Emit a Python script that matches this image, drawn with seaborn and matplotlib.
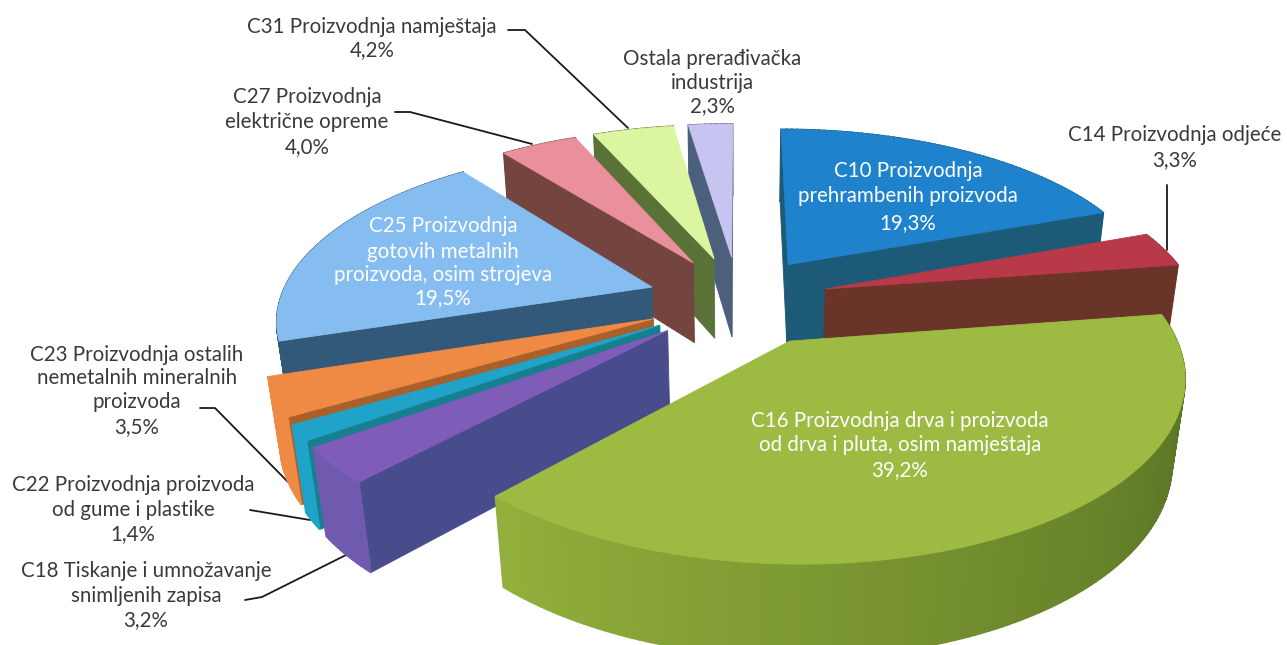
import numpy as np
import matplotlib
matplotlib.use('Agg')
import matplotlib.pyplot as plt
import seaborn as sns

# Udio po djelatnosti (%)
categories = ['C10', 'C14', 'C16', 'C18', 'C22', 'C23', 'C25', 'C27', 'C31', 'Ostala']
shares = [19.3, 3.3, 39.2, 3.2, 1.4, 3.5, 19.5, 4.0, 4.2, 2.3]

label_lines = [
    ['C10 Proizvodnja', 'prehrambenih proizvoda', '19,3%'],
    ['C14 Proizvodnja odjeće', '3,3%'],
    ['C16 Proizvodnja drva i proizvoda', 'od drva i pluta, osim namještaja', '39,2%'],
    ['C18 Tiskanje i umnožavanje', 'snimljenih zapisa', '3,2%'],
    ['C22 Proizvodnja proizvoda', 'od gume i plastike', '1,4%'],
    ['C23 Proizvodnja ostalih', 'nemetalnih mineralnih', 'proizvoda', '3,5%'],
    ['C25 Proizvodnja', 'gotovih metalnih', 'proizvoda, osim strojeva', '19,5%'],
    ['C27 Proizvodnja', 'električne opreme', '4,0%'],
    ['C31 Proizvodnja namještaja', '4,2%'],
    ['Ostala prerađivačka', 'industrija', '2,3%'],
]

top_colors = ['#1f82cc', '#b83a48', '#9dbb42', '#7f5cb8', '#1fa3c9', '#ee8a43',
              '#86bdf0', '#ea8f9c', '#dcf5a0', '#c8c4f2']
side_colors = ['#1d5a78', '#6a3429', '#5f7a2a', '#484c8c', '#17808f', '#a9602b',
               '#33597a', '#74443f', '#5a7238', '#4c5f7c']
rim_colors = ['#1d5a78', '#6a3429', '#8da83c', '#6f5ab0', '#1fa3c9', '#ee8a43',
              '#33597a', '#74443f', '#5a7238', '#4c5f7c']

# geometri tampilan pie 3D
cx, cy = 738, 300
R0, k, H = 372, 0.455, 84
explode = 0.245
explode_v = 0.264
explode_c16 = 0.285
persp, persp_d = 0.17, 0.028

text_color = '#3a3a3a'
font = 'Lato'
fs = 14.8


def project(u, v, d):
    s = 1 / (1 - persp * v + persp_d * d)
    return cx + R0 * u * s, cy + (R0 * k * v + H * d) * s


def slice_point(a, mid, r, d, e=explode):
    u = e * np.sin(mid) + r * np.sin(a)
    v = -explode_v * np.cos(mid) - r * np.cos(a)
    return project(u, v, d)


def signed_area(poly):
    xs, ys = np.array(poly).T
    return np.sum(xs * np.roll(ys, -1) - np.roll(xs, -1) * ys) / 2


sns.set_theme(style='white')
plt.rcParams['font.family'] = [font, 'DejaVu Sans']

fig, ax = plt.subplots(figsize=(12.87, 6.45), dpi=100)
fig.subplots_adjust(0, 0, 1, 1)
ax.set_xlim(0, 1287)
ax.set_ylim(645, 0)
ax.axis('off')

edges = np.radians(np.cumsum([0] + shares) / sum(shares) * 360)
starts, ends = edges[:-1], edges[1:]
mids = (starts + ends) / 2

# gambar dari belakang ke depan
for i in np.argsort(-np.cos(mids)):
    a0, a1, mid = starts[i], ends[i], mids[i]
    e = explode_c16 if categories[i] == 'C16' else explode
    arc = np.linspace(a0, a1, max(int(np.degrees(a1 - a0)), 2) + 1)

    # dinding radial, yang menghadap belakang dilewati
    for a, sign in ((a0, -1), (a1, 1)):
        wall = [slice_point(mid, mid, 0, 0, e), slice_point(a, mid, 1, 0, e),
                slice_point(a, mid, 1, 1, e), slice_point(mid, mid, 0, 1, e)]
        if signed_area(wall) * sign > 0:
            ax.fill(*zip(*wall), color=side_colors[i], lw=0.6, zorder=2)

    # dinding luar, C16 makin gelap ke kanan
    if categories[i] == 'C16':
        rim = sns.blend_palette(['#4f6a22', '#6f8a2c', '#93b03c'], len(arc) - 1)
    else:
        rim = [rim_colors[i]] * (len(arc) - 1)
    for j in range(len(arc) - 1):
        seg = [slice_point(arc[j], mid, 1, 0, e), slice_point(arc[j + 1], mid, 1, 0, e),
               slice_point(arc[j + 1], mid, 1, 1, e), slice_point(arc[j], mid, 1, 1, e)]
        ax.fill(*zip(*seg), color=rim[j], lw=1.2, zorder=2)

    top = [slice_point(mid, mid, 0, 0, e)] + [slice_point(a, mid, 1, 0, e) for a in arc]
    ax.fill(*zip(*top), color=top_colors[i], lw=0.6, zorder=2)

# posisi label: (x tengah, y tiap baris, warna)
label_pos = {
    'C10': (908, [171, 196, 223], 'white'),
    'C14': (1175, [135, 160], text_color),
    'C16': (900, [421, 445, 470], 'white'),
    'C18': (146, [571, 596, 620], text_color),
    'C22': (133, [485, 510, 534], text_color),
    'C23': (137, [355, 378, 402, 427], text_color),
    'C25': (443, [226, 252, 275, 298], 'white'),
    'C27': (307, [97, 122, 147], text_color),
    'C31': (372, [27, 50], text_color),
    'Ostala': (712, [59, 83, 106], text_color),
}
for name, lines in zip(categories, label_lines):
    x, ys, col = label_pos[name]
    for line, y in zip(lines, ys):
        ax.text(x, y, line, ha='center', va='center', color=col, fontsize=fs, zorder=5)

# garis penunjuk
leaders = [
    ([508, 525, 628], [30, 30, 128]),
    ([395, 410, 532], [112, 112, 144]),
    ([1167, 1167], [185, 250]),
    ([200, 215, 288], [408, 408, 482]),
    ([250, 310], [510, 520]),
    ([245, 262, 350], [600, 597, 553]),
]
for xs, ys in leaders:
    ax.plot(xs, ys, color='#1a1a1a', lw=1.3, zorder=1)

plt.savefig('out.png', dpi=100)
